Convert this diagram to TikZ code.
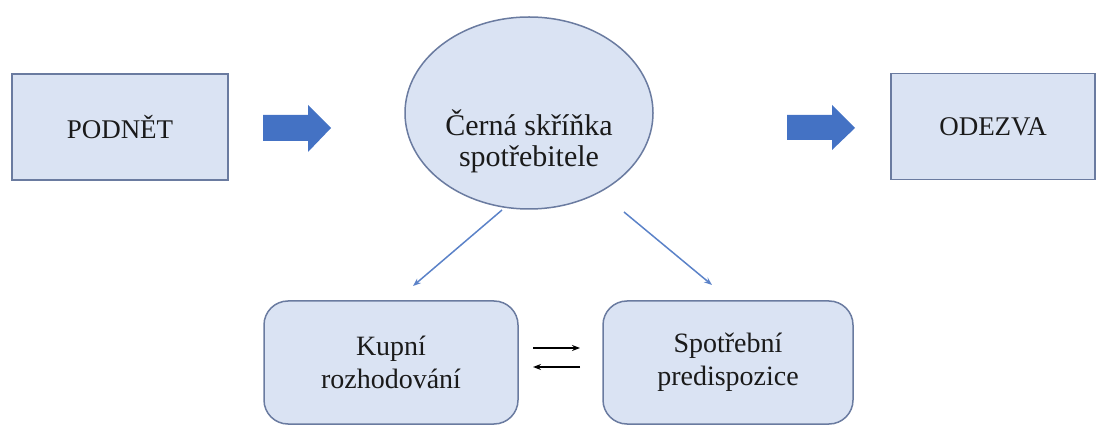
\documentclass[tikz,border=0pt]{standalone}
\usepackage{fontspec}
\setmainfont{Liberation Serif}
\usetikzlibrary{arrows.meta,shapes.geometric}
\definecolor{boxfill}{HTML}{DAE3F3}
\definecolor{boxline}{HTML}{6A7BA0}
\definecolor{bigarrow}{HTML}{4472C4}
\definecolor{thinarrow}{HTML}{5B82C8}
\definecolor{txt}{HTML}{1A1A1A}
\begin{document}
\begin{tikzpicture}[x=1pt,y=-1pt,
  topbox/.style={draw=boxline,fill=boxfill,line width=1.8pt,minimum width=216pt,minimum height=106pt,inner sep=0pt,text=txt,font=\fontsize{27}{31}\selectfont},
  ellbox/.style={ellipse,draw=boxline,fill=boxfill,line width=1.5pt,minimum width=248pt,minimum height=192pt,inner sep=0pt},
  elltext/.style={inner sep=0pt,text=txt,align=center,font=\fontsize{30}{31}\selectfont},
  lowbox/.style={draw=boxline,fill=boxfill,line width=1.5pt,rounded corners=24pt,minimum height=123pt,inner sep=0pt,text=txt,align=center,font=\fontsize{28}{33}\selectfont},
  blockarrow/.style={fill=bigarrow,draw=none},
  thin/.style={draw=thinarrow,line width=1.5pt,-{Stealth[length=8pt,width=6pt]}},
  eqarrow/.style={draw=black,line width=1.6pt,-{Stealth[length=8pt,width=6pt]}}
]
\useasboundingbox (0,0) rectangle (1097,427);
\node[topbox] (podnet) at (120,127) {PODNĚT};
\node[topbox,minimum width=204pt] (odezva) at (993,126.5) {ODEZVA};
\node[ellbox] (cerna) at (529,113) {};
\node[elltext] (cernatext) at ([yshift=-28pt]cerna.center) {Černá skříňka\\spotřebitele};
\node[lowbox,minimum width=254pt] (kupni) at (391,362.5) {Kupní\\rozhodování};
\node[lowbox,minimum width=250pt] (spotr) at (728,362.5) {Spotřební\\predispozice};
% block arrows
\fill[blockarrow] (263,115) -- (308,115) -- (308,105) -- (331,128) -- (308,152) -- (308,141) -- (263,141) -- cycle;
\fill[blockarrow] (787,115) -- (832,115) -- (832,105) -- (855,128) -- (832,150) -- (832,140) -- (787,140) -- cycle;
% thin arrows
\coordinate (a1s) at (502,210);
\coordinate (a1e) at (413,286);
\coordinate (a2s) at (624,212);
\coordinate (a2e) at (712,285);
\draw[thin] (a1s) -- (a1e);
\draw[thin] (a2s) -- (a2e);
% equilibrium arrows
\coordinate (e1s) at (533,348);
\coordinate (e1e) at (580,348);
\coordinate (e2s) at (580,367);
\coordinate (e2e) at (533,367);
\draw[eqarrow] (e1s) -- (e1e);
\draw[eqarrow] (e2s) -- (e2e);
\end{tikzpicture}
\end{document}
